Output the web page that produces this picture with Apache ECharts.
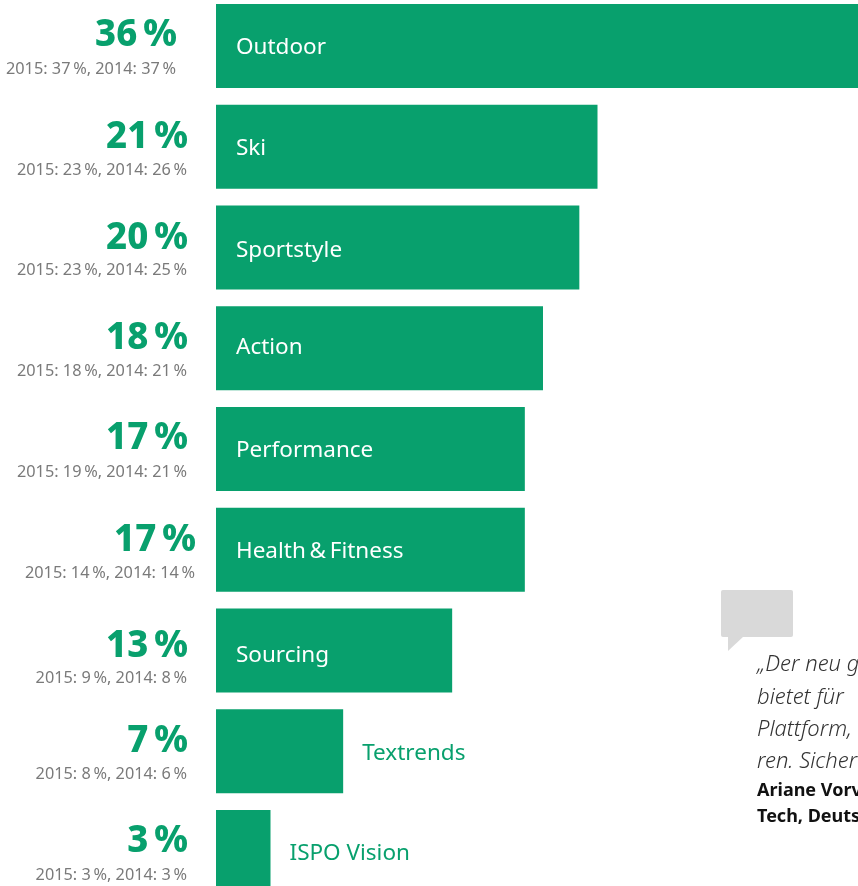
<!DOCTYPE html>
<html>
<head>
<meta charset="utf-8">
<style>html,body{margin:0;padding:0;background:#fff}#c{width:858px;height:886px}</style>
<script src="https://cdn.jsdelivr.net/npm/echarts@6/dist/echarts.min.js"></script>
</head>
<body>
<div id="c"></div>
<script>
// Segment shares per trade-fair area, current year and the two years before
const segments = ['Outdoor', 'Ski', 'Sportstyle', 'Action', 'Performance', 'Health\u2009&\u2009Fitness', 'Sourcing', 'Textrends', 'ISPO Vision'];
const share = [36, 21, 20, 18, 17, 17, 13, 7, 3];
const share2015 = [37, 23, 23, 18, 19, 14, 9, 8, 3];
const share2014 = [37, 26, 25, 21, 21, 14, 8, 6, 3];

// Small per-row nudges for the text beside and on the bars
const figureShift = [-11, 0, 0, 0, 0, 8, 0, 0, 0];
const figureDrop = [3, 4, 4, 3, 3, 4, 9, 3, 3];
const noteDrop = [1, 2, 1, 1, 1, 2, 6, 1, 1];
const nameShift = [2, 2, 3, -1, 2, 2, 5, 2, 2];
const outsideFrom = 7;

const GREEN = '#08a06d';
const GREY = '#7a7a7a';
const FONT = '"Noto Sans", sans-serif';
const pct = v => v + '\u2009%';

const chart = echarts.init(document.getElementById('c'), null, {renderer: 'canvas'});
chart.setOption({
  animation: false,
  backgroundColor: '#fff',
  grid: {left: 216, top: -4.4, width: 654, height: 906.75, outerBoundsMode: 'none'},
  xAxis: {type: 'value', min: 0, max: 36, show: false},
  yAxis: {type: 'category', inverse: true, data: segments, show: false},
  series: [
    {
      type: 'bar',
      barWidth: 84,
      clip: false,
      itemStyle: {color: GREEN},
      data: share.map((v, i) => ({
        value: v,
        label: {
          show: true,
          formatter: segments[i],
          fontFamily: FONT,
          fontSize: 22.5,
          color: i < outsideFrom ? '#fff' : GREEN,
          position: i < outsideFrom ? 'insideLeft' : 'right',
          distance: i < outsideFrom ? 20 : 19,
          offset: [0, nameShift[i]]
        }
      }))
    },
    {
      // Percentage block to the left of each bar
      type: 'custom',
      clip: false,
      silent: true,
      data: share.map((v, i) => [0, i]),
      encode: {x: 0, y: 1},
      renderItem(params, api) {
        const i = params.dataIndex;
        const p = api.coord([0, i]);
        const right = p[0] - 29 + figureShift[i];
        return {
          type: 'group',
          children: [
            {
              type: 'text',
              style: {
                x: right + 1, y: p[1] - 13 + figureDrop[i],
                text: pct(share[i]),
                align: 'right', verticalAlign: 'middle',
                fontFamily: FONT, fontWeight: 800, fontSize: 36.5,
                fill: GREEN
              }
            },
            {
              type: 'text',
              style: {
                x: right, y: p[1] + 22 + noteDrop[i],
                text: '2015: ' + pct(share2015[i]) + ', 2014: ' + pct(share2014[i]),
                align: 'right', verticalAlign: 'middle',
                fontFamily: FONT, fontSize: 16.3,
                fill: GREY
              }
            }
          ]
        };
      }
    }
  ],
  graphic: [
    {
      // Speech bubble above the quote
      type: 'group',
      children: [
        {type: 'rect', shape: {x: 721, y: 590, width: 72, height: 47, r: 2}, style: {fill: '#d9d9d9'}},
        {type: 'polygon', shape: {points: [[728, 636], [744, 636], [728, 651]]}, style: {fill: '#d9d9d9'}}
      ]
    },
    ...['\u201EDer neu g', 'bietet f\u00FCr', 'Plattform,', 'ren. Sicher'].map((line, i) => ({
      type: 'text',
      style: {
        x: 757, y: 665 + i * 32.3, text: line,
        verticalAlign: 'middle',
        fontFamily: FONT, fontStyle: 'italic', fontWeight: 300, fontSize: 22,
        fill: '#333'
      }
    })),
    ...['Ariane Vorv', 'Tech, Deuts'].map((line, i) => ({
      type: 'text',
      style: {
        x: 757, y: 791 + i * 26, text: line,
        verticalAlign: 'middle',
        fontFamily: FONT, fontWeight: 'bold', fontSize: 18,
        fill: '#111'
      }
    }))
  ]
});
</script>
</body>
</html>
